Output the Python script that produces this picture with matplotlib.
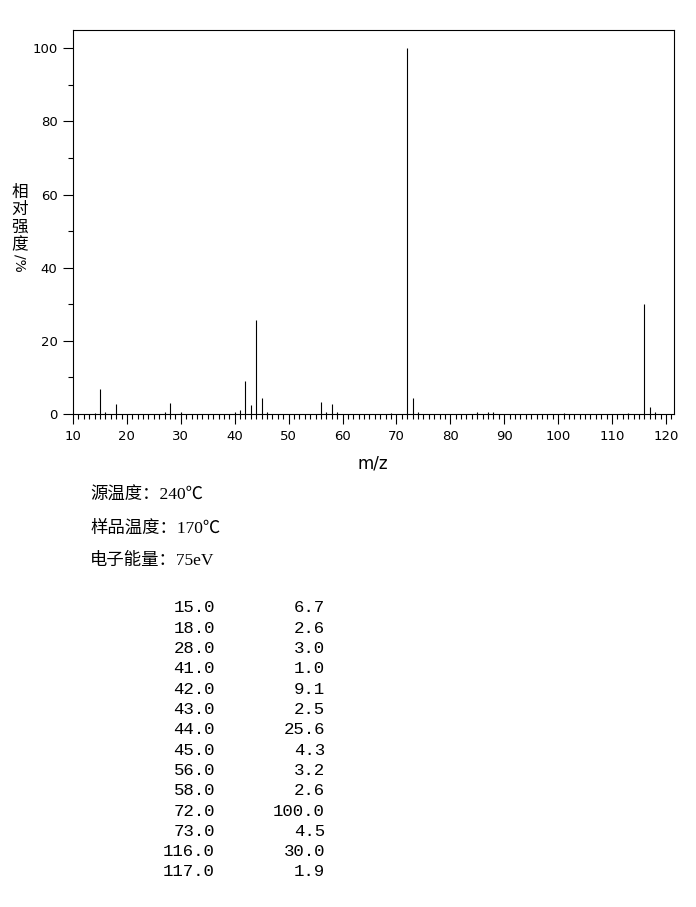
import matplotlib
matplotlib.use("Agg")
import matplotlib.pyplot as plt
from matplotlib.ticker import MultipleLocator, FixedLocator

# main peaks (listed in table)
mz = [15, 18, 28, 41, 42, 43, 44, 45, 56, 58, 72, 73, 116, 117]
intensity = [6.7, 2.6, 3.0, 1.0, 9.1, 2.5, 25.6, 4.3, 3.2, 2.6, 100.0, 4.5, 30.0, 1.9]
# tiny unlisted peaks
minor_mz = [14, 16, 27, 30, 40, 46, 57, 59, 69, 74, 85, 87, 88, 101, 113, 118]
minor_int = [0.4, 0.5, 0.6, 0.5, 0.6, 0.5, 0.5, 0.5, 0.4, 0.6, 0.5, 0.5, 0.5, 0.4, 0.4, 0.5]

y_ticks = [0, 20, 40, 60, 80, 100]
x_ticks = [10, 20, 30, 40, 50, 60, 70, 80, 90, 100, 110, 120]
ylabel_chars = ["相", "对", "强", "度"]
ylabel_tail = "/%"
info_lines = ["源温度：240℃", "样品温度：170℃", "电子能量：75eV"]

W, H = 696, 907
fig = plt.figure(figsize=(W / 100, H / 100), dpi=100)

def fx(px):
    return px / W

def fy(py):
    return 1 - py / H

ax = fig.add_axes([fx(73), fy(414), fx(674) - fx(73), fy(30) - fy(414)])
ax.vlines(mz, 0, intensity, color="black", lw=0.8)
ax.vlines(minor_mz, 0, minor_int, color="black", lw=0.8)
ax.set_xlim(10, 121.5)
ax.set_ylim(0, 105)

for s in ax.spines.values():
    s.set_linewidth(0.8)
    s.set_color("black")

ax.xaxis.set_major_locator(FixedLocator(x_ticks))
ax.xaxis.set_minor_locator(MultipleLocator(1))
ax.yaxis.set_major_locator(FixedLocator(y_ticks))
ax.yaxis.set_minor_locator(MultipleLocator(10))
ax.tick_params(axis="both", which="major", direction="out", length=7.2, width=0.8,
               labelsize=9.5, pad=4, color="black")
ax.tick_params(axis="both", which="minor", direction="out", length=3.6, width=0.8, color="black")
ax.tick_params(top=False, right=False, which="both")
ax.set_xticklabels([str(t) for t in x_ticks], fontfamily="DejaVu Sans")
ax.set_yticklabels([str(t) for t in y_ticks], fontfamily="DejaVu Sans")

fig.text(fx(373), fy(463), "m/z", fontsize=12, ha="center", va="center", family="DejaVu Sans")

# vertical y label
ycent = [192, 209, 227, 245]
for ch, yc in zip(ylabel_chars, ycent):
    fig.text(fx(20), fy(yc), ch, fontsize=12, ha="center", va="center",
             family=["Noto Sans CJK SC", "DejaVu Sans"])
fig.text(fx(20), fy(263), ylabel_tail, fontsize=10, ha="center", va="center",
         rotation=-90, family="DejaVu Sans")

# info lines
for i, line in enumerate(info_lines):
    fig.text(fx(90), fy(496 + i * 32.5), line, fontsize=12.5, ha="left", va="center",
             family=["Liberation Serif", "Noto Sans CJK SC", "DejaVu Sans"])

# data table
for i, (m, v) in enumerate(zip(mz, intensity)):
    yc = 608 + i * 20.3
    fig.text(fx(215), fy(yc), f"{m:.1f}", fontsize=12.5, ha="right", va="center",
             family="Liberation Mono")
    fig.text(fx(325), fy(yc), f"{v:.1f}", fontsize=12.5, ha="right", va="center",
             family="Liberation Mono")

fig.savefig("out.png", dpi=100, facecolor="white")
